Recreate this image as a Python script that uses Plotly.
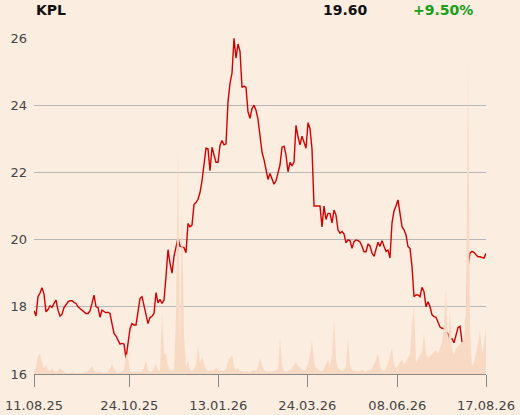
import plotly.graph_objects as go

ticker = "KPL"
last_price = "19.60"
change_pct = "+9.50%"

price = [
    17.88, 17.73, 18.30, 18.41, 18.57, 18.38, 17.85, 17.92, 18.03, 17.98,
    18.10, 18.20, 17.90, 17.72, 17.78, 17.98, 18.06, 18.15, 18.18, 18.18,
    18.13, 18.10, 18.00, 17.95, 17.91, 17.85, 17.80, 17.80, 17.88, 18.10,
    18.35, 18.00, 17.98, 17.69, 17.90, 17.86, 17.82, 17.84, 17.80, 17.50,
    17.21, 17.13, 17.03, 16.89, 16.91, 16.89, 16.47, 16.96, 17.35, 17.50,
    17.46, 17.46, 17.80, 18.25, 18.30, 18.05, 17.75, 17.50, 17.68, 17.72,
    17.80, 18.42, 18.12, 18.22, 18.10, 18.20, 18.90, 19.70, 19.30, 19.00,
    19.50, 19.80, 20.05, 19.80, 19.78, 19.76, 19.61, 20.48, 20.38, 20.43,
    21.05, 21.10, 21.20, 21.40, 21.75, 22.30, 22.72, 22.70, 22.05, 22.75,
    22.50, 22.30, 22.30, 22.80, 22.95, 22.82, 22.85, 24.10, 24.65, 24.95,
    25.99, 25.40, 25.82, 25.60, 24.53, 24.57, 24.53, 23.80, 23.61, 23.90,
    24.00, 23.85, 23.58, 23.10, 22.60, 22.38, 22.10, 21.79, 21.97, 21.82,
    21.65, 21.75, 21.95, 22.22, 22.75, 22.78, 22.52, 22.02, 22.30, 22.20,
    22.30, 23.40, 23.06, 22.82, 23.08, 22.91, 22.72, 23.48, 23.30, 22.70,
    21.00, 21.00, 21.00, 21.00, 20.38, 21.00, 20.60, 20.78, 20.78, 20.50,
    20.88, 20.73, 20.29, 20.19, 20.24, 20.17, 19.90, 19.99, 19.97, 19.74,
    19.94, 19.99, 19.97, 19.93, 19.80, 19.64, 19.64, 19.87, 19.81, 19.60,
    19.50, 19.70, 19.92, 19.80, 19.97, 19.80, 19.65, 19.69, 19.45, 20.50,
    20.85, 21.00, 21.18, 20.78, 20.38, 20.29, 20.14, 19.79, 19.74, 19.20,
    18.30, 18.35, 18.35, 18.30, 18.58, 18.45, 18.00, 18.15, 18.00, 17.76,
    17.71, 17.69, 17.55, 17.40, 17.36, 17.35, 17.26, 17.20, 17.01, 17.05,
    16.93, 17.20, 17.38, 17.42, 16.96, 16.96, 16.96, 19.20, 19.60, 19.65,
    19.62, 19.55, 19.49, 19.49, 19.47, 19.45, 19.59,
]

volume_k = [
    3, 8, 18, 21, 12, 6, 9, 4, 3, 6,
    3, 2, 3, 6, 4, 2, 1, 1, 1, 2,
    1, 1, 1, 1, 1, 2, 2, 3, 6, 8,
    4, 2, 2, 2, 2, 1, 2, 2, 5, 10,
    6, 2, 1, 2, 2, 5, 20, 18, 3, 2,
    2, 2, 3, 2, 3, 6, 14, 4, 2, 3,
    6, 10, 4, 3, 61, 20, 20, 8, 4, 3,
    4, 60, 226, 30, 168, 40, 6, 14, 4, 3,
    5, 10, 27, 12, 17, 10, 5, 3, 4, 3,
    4, 6, 4, 3, 3, 3, 5, 12, 16, 19,
    8, 4, 6, 3, 3, 2, 3, 2, 2, 3,
    4, 3, 6, 16, 8, 4, 3, 2, 3, 2,
    3, 4, 5, 36, 8, 3, 2, 3, 4, 6,
    9, 12, 8, 6, 4, 3, 6, 10, 20, 34,
    12, 6, 5, 3, 3, 5, 10, 15, 8, 18,
    56, 14, 6, 4, 3, 4, 8, 36, 10, 4,
    3, 3, 2, 3, 4, 3, 2, 4, 3, 6,
    10, 14, 22, 8, 4, 3, 6, 10, 18, 26,
    10, 6, 8, 12, 14, 10, 12, 16, 20, 50,
    69, 12, 15, 18, 22, 41, 20, 16, 18, 20,
    22, 24, 20, 26, 32, 50, 86, 30, 66, 24,
    20, 26, 28, 30, 32, 34, 60, 310, 40, 8,
    12, 21, 30, 44, 20, 30, 47,
]

tick_pos = [0, 47.65, 92.15, 136.65, 181.65, 226]
tick_labels = ["11.08.25", "24.10.25", "13.01.26", "24.03.26", "08.06.26", "17.08.26"]
y_ticks = [16, 18, 20, 22, 24, 26]

x = list(range(len(price)))
xv = list(range(len(volume_k)))

BG = "#fcede1"
FONT = "DejaVu Sans"

fig = go.Figure()
fig.add_trace(go.Scatter(
    x=xv, y=volume_k, yaxis="y2", mode="lines",
    line=dict(width=0, color="#f8dac4"), fill="tozeroy",
    fillcolor="#f8dac4", hoverinfo="skip", showlegend=False,
))
fig.add_trace(go.Scatter(
    x=x, y=price, mode="lines",
    line=dict(color="#d40000", width=1.4), showlegend=False,
))

fig.update_layout(
    width=520, height=415,
    margin=dict(l=34, r=34, t=38, b=41),
    paper_bgcolor=BG, plot_bgcolor=BG,
    font=dict(family=FONT, size=13, color="#444444"),
    xaxis=dict(
        range=[0, len(price) - 1], tickvals=tick_pos, ticktext=tick_labels,
        showgrid=False, zeroline=False, showline=True, linecolor="#888888",
        linewidth=1, ticks="outside", ticklen=12, tickcolor="#888888",
        tickwidth=1, ticklabelstandoff=7, automargin=False,
        tickfont=dict(family=FONT, size=13, color="#444444"),
    ),
    yaxis=dict(
        range=[16, 26], tickvals=y_ticks, showgrid=True, gridcolor="#b8b8b8",
        gridwidth=1, zeroline=False, showline=False, ticks="",
        ticklabelstandoff=6, automargin=False,
        tickfont=dict(family=FONT, size=13, color="#444444"),
    ),
    yaxis2=dict(
        range=[0, 336], overlaying="y", side="right", visible=False,
        automargin=False,
    ),
    annotations=[
        dict(text="<b>" + ticker + "</b>", xref="paper", yref="paper",
             x=0, y=1.083, xanchor="left", yanchor="middle", showarrow=False,
             font=dict(family=FONT, size=14, color="#111111")),
        dict(text="<b>" + last_price + "</b>", xref="paper", yref="paper",
             x=0.743, y=1.083, xanchor="right", yanchor="middle", showarrow=False,
             font=dict(family=FONT, size=14, color="#111111")),
        dict(text="<b>" + change_pct + "</b>", xref="paper", yref="paper",
             x=0.834, y=1.083, xanchor="left", yanchor="middle", showarrow=False,
             font=dict(family=FONT, size=14, color="#16a016")),
    ],
)

fig.write_html(
    "out.html",
    config={"displayModeBar": False},
    post_script="document.body.style.margin='0';document.body.style.background='" + BG + "';",
)
